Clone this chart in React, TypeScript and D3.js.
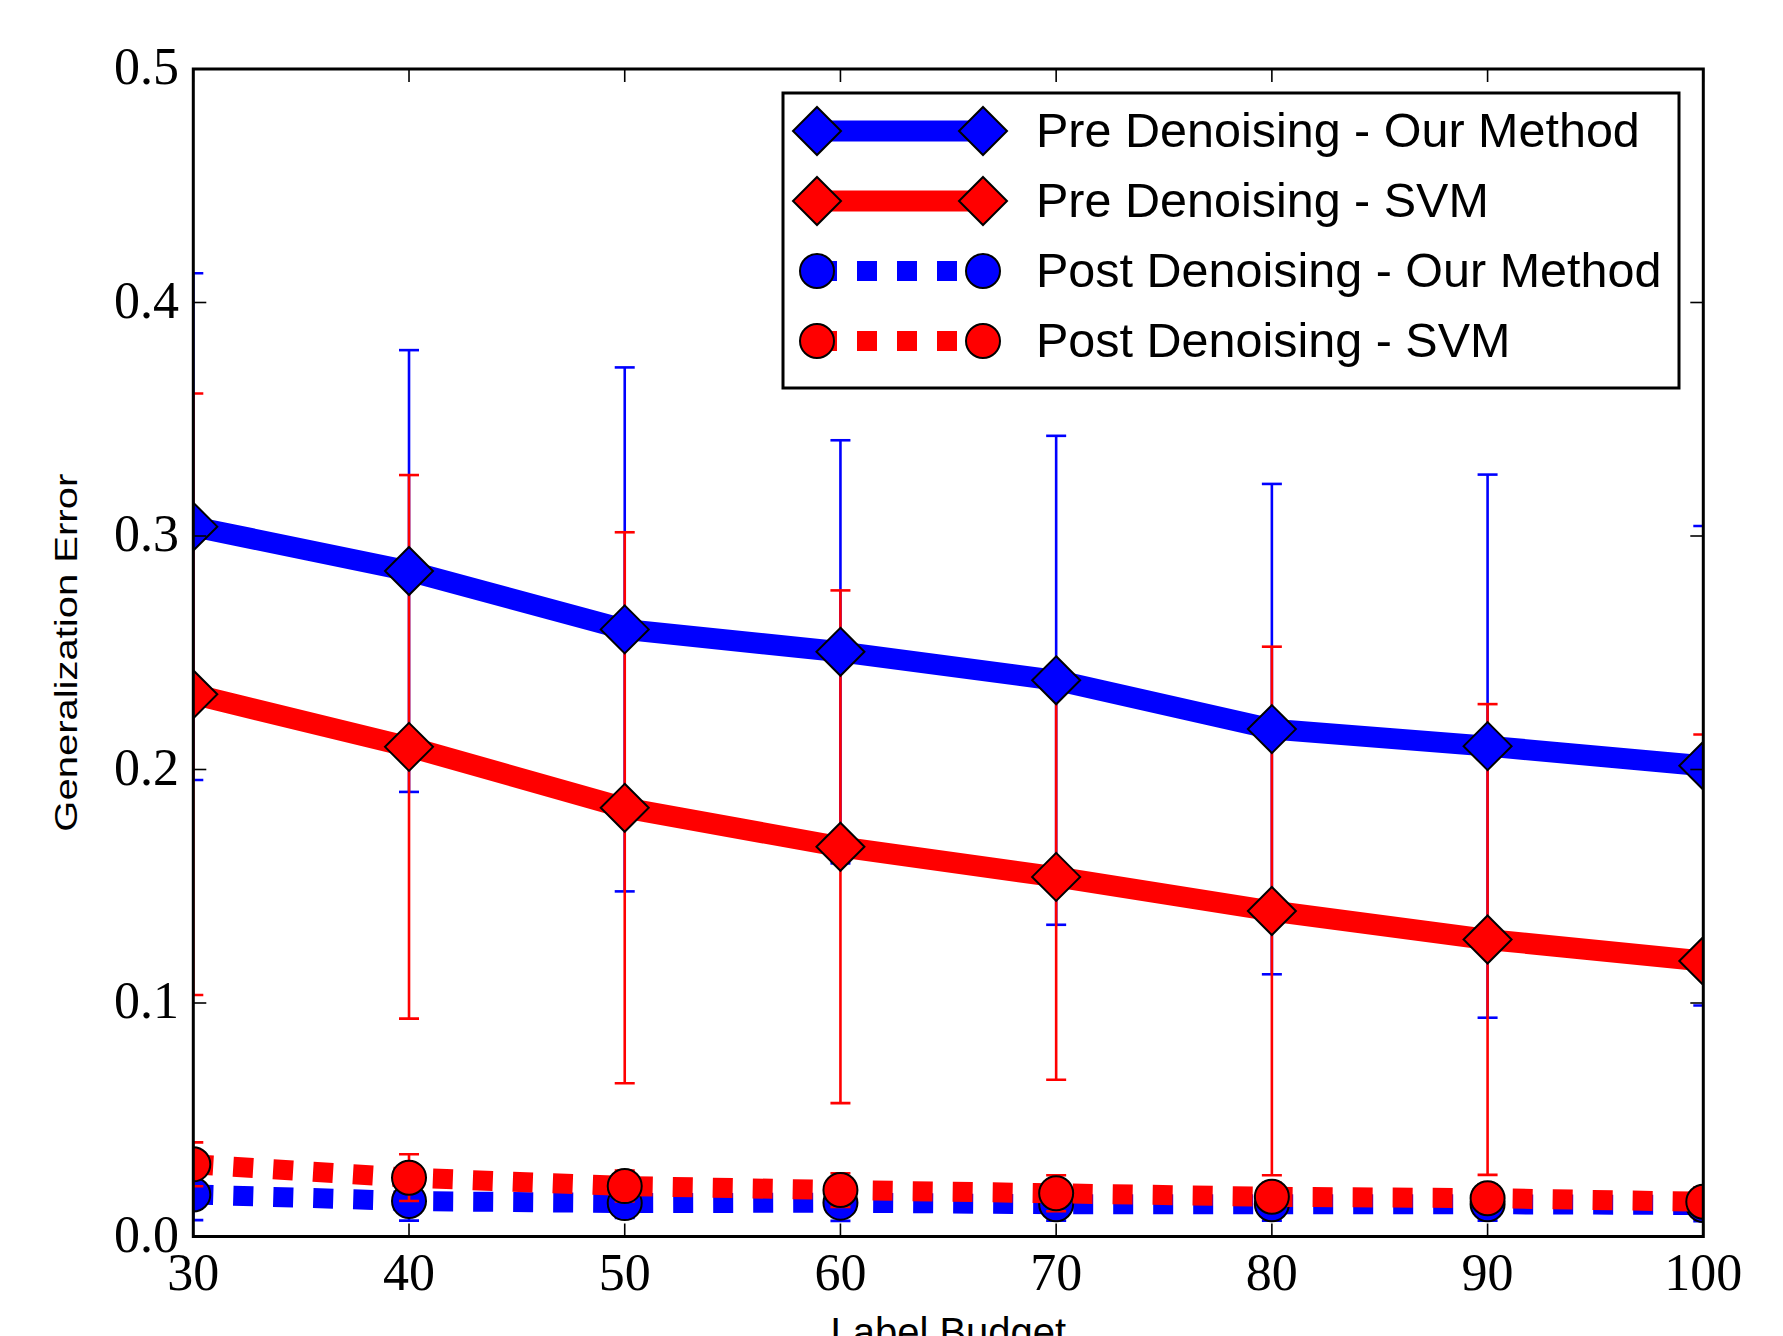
import React from "react";
import * as d3 from "d3";

const budgets = [30, 40, 50, 60, 70, 80, 90, 100];
const preOurMean = [0.304, 0.285, 0.26, 0.2504, 0.2382, 0.2173, 0.21, 0.2016];
const preOurErr = [0.1085, 0.0946, 0.1122, 0.0906, 0.1047, 0.105, 0.1163, 0.1027];
const preSvmMean = [0.2322, 0.2097, 0.1836, 0.1669, 0.154, 0.1394, 0.1272, 0.118];
const preSvmErr = [0.1288, 0.1164, 0.118, 0.1098, 0.0869, 0.1132, 0.1008, 0.097];
const postOurMean = [0.018, 0.0152, 0.0143, 0.0145, 0.0138, 0.0138, 0.0138, 0.0135];
const postOurErr = [0.011, 0.0084, 0.0064, 0.0078, 0.007, 0.007, 0.007, 0.007];
const postSvmMean = [0.0309, 0.0252, 0.0216, 0.0199, 0.0185, 0.017, 0.0164, 0.0149];
const postSvmErr = [0.0094, 0.01, 0.0066, 0.0072, 0.0077, 0.006, 0.006, 0.006];
const seriesNames = [
  "Pre Denoising - Our Method",
  "Pre Denoising - SVM",
  "Post Denoising - Our Method",
  "Post Denoising - SVM",
];
const xTicks = [30, 40, 50, 60, 70, 80, 90, 100];
const yTicks = [0, 0.1, 0.2, 0.3, 0.4, 0.5];
const xLabel = "Label Budget";
const yLabel = "Generalization Error";

const W = 1783;
const H = 1336;
const L = 193.3, R = 1703.3, T = 69, B = 1236.5;

const x = d3.scaleLinear().domain([30, 100]).range([L, R]);
const y = d3.scaleLinear().domain([0, 0.5]).range([B, T]);

type Series = {
  name: string;
  mean: number[];
  err: number[];
  color: string;
  marker: "D" | "o";
  dashed: boolean;
};

const series: Series[] = [
  { name: seriesNames[0], mean: preOurMean, err: preOurErr, color: "#0000ff", marker: "D", dashed: false },
  { name: seriesNames[1], mean: preSvmMean, err: preSvmErr, color: "#ff0000", marker: "D", dashed: false },
  { name: seriesNames[2], mean: postOurMean, err: postOurErr, color: "#0000ff", marker: "o", dashed: true },
  { name: seriesNames[3], mean: postSvmMean, err: postSvmErr, color: "#ff0000", marker: "o", dashed: true },
];

const DIAM = 24; // half diagonal of diamond
const CIRC = 17; // radius of circle

function Marker({ cx, cy, s }: { cx: number; cy: number; s: Series }) {
  if (s.marker === "D") {
    const p = `M${cx},${cy - DIAM}L${cx + DIAM},${cy}L${cx},${cy + DIAM}L${cx - DIAM},${cy}Z`;
    return <path d={p} fill={s.color} stroke="#000" strokeWidth={2} strokeLinejoin="miter" />;
  }
  return <circle cx={cx} cy={cy} r={CIRC} fill={s.color} stroke="#000" strokeWidth={2} />;
}

function ErrorBars({ s }: { s: Series }) {
  return (
    <g>
      {budgets.map((b, i) => {
        const xx = x(b);
        const y1 = y(s.mean[i] + s.err[i]);
        const y0 = y(s.mean[i] - s.err[i]);
        return (
          <g key={i} stroke={s.color} strokeWidth={2.6}>
            <line x1={xx} x2={xx} y1={y1} y2={y0} />
            <line x1={xx - 10} x2={xx + 10} y1={y1} y2={y1} />
            <line x1={xx - 10} x2={xx + 10} y1={y0} y2={y0} />
          </g>
        );
      })}
    </g>
  );
}

function SeriesLine({ s }: { s: Series }) {
  const line = d3
    .line<number>()
    .x((_, i) => x(budgets[i]))
    .y((d) => y(d));
  return (
    <g>
      <path
        d={line(s.mean) || ""}
        fill="none"
        stroke={s.color}
        strokeWidth={s.dashed ? 20 : 21}
        strokeDasharray={s.dashed ? "20 20" : undefined}
        strokeLinecap="butt"
        strokeLinejoin="round"
      />
      {budgets.map((b, i) => (
        <Marker key={i} cx={x(b)} cy={y(s.mean[i])} s={s} />
      ))}
    </g>
  );
}

export default function App() {
  const tickFont = "'Liberation Serif', 'Times New Roman', serif";
  const sansFont = "'Liberation Sans', Arial, Helvetica, sans-serif";
  const legX0 = 817, legX1 = 983, legTextX = 1036;
  const legRows = [131, 201, 271, 341];
  return (
    <svg
      width={W}
      height={H}
      viewBox={`0 0 ${W} ${H}`}
      style={{ position: "absolute", left: 0, top: 0, background: "#fff" }}
    >
      <rect x={0} y={0} width={W} height={H} fill="#fff" />
      <defs>
        <clipPath id="plotclip">
          <rect x={L} y={T} width={R - L} height={B - T} />
        </clipPath>
      </defs>
      <g clipPath="url(#plotclip)">
        <ErrorBars s={series[0]} />
        <ErrorBars s={series[1]} />
        <SeriesLine s={series[0]} />
        <SeriesLine s={series[1]} />
        <ErrorBars s={series[2]} />
        <SeriesLine s={series[2]} />
        <ErrorBars s={series[3]} />
        <SeriesLine s={series[3]} />
      </g>
      {/* ticks */}
      <g stroke="#000" strokeWidth={1.6}>
        {xTicks.map((t) => (
          <g key={"xt" + t}>
            <line x1={x(t)} x2={x(t)} y1={B} y2={B - 13} />
            <line x1={x(t)} x2={x(t)} y1={T} y2={T + 13} />
          </g>
        ))}
        {yTicks.map((t) => (
          <g key={"yt" + t}>
            <line x1={L} x2={L + 13} y1={y(t)} y2={y(t)} />
            <line x1={R} x2={R - 13} y1={y(t)} y2={y(t)} />
          </g>
        ))}
      </g>
      {/* spines */}
      <rect x={L} y={T} width={R - L} height={B - T} fill="none" stroke="#000" strokeWidth={3} />
      {/* tick labels */}
      <g fontFamily={tickFont} fontSize={52} fill="#000">
        {xTicks.map((t) => (
          <text key={"xl" + t} x={x(t)} y={1290} textAnchor="middle">
            {String(t)}
          </text>
        ))}
        {yTicks.map((t) => (
          <text key={"yl" + t} x={179} y={y(t) + 15} textAnchor="end">
            {t.toFixed(1)}
          </text>
        ))}
      </g>
      {/* axis labels */}
      <text x={(L + R) / 2} y={1346} textAnchor="middle" fontFamily={sansFont} fontSize={40}>
        {xLabel}
      </text>
      <g transform={`translate(77, ${(T + B) / 2}) rotate(-90) scale(1, 0.8)`}>
        <text x={0} y={0} textAnchor="middle" fontFamily={sansFont} fontSize={40}>
          {yLabel}
        </text>
      </g>
      {/* legend */}
      <rect x={783} y={93} width={896} height={295} fill="#fff" stroke="#000" strokeWidth={3} />
      {series.map((s, i) => (
        <g key={"leg" + i}>
          <line
            x1={legX0}
            x2={legX1}
            y1={legRows[i]}
            y2={legRows[i]}
            stroke={s.color}
            strokeWidth={s.dashed ? 20 : 21}
            strokeDasharray={s.dashed ? "20 20" : undefined}
          />
          <Marker cx={legX0} cy={legRows[i]} s={s} />
          <Marker cx={legX1} cy={legRows[i]} s={s} />
          <text x={legTextX} y={legRows[i] + 16} fontFamily={sansFont} fontSize={48.5} fill="#000">
            {s.name}
          </text>
        </g>
      ))}
    </svg>
  );
}
